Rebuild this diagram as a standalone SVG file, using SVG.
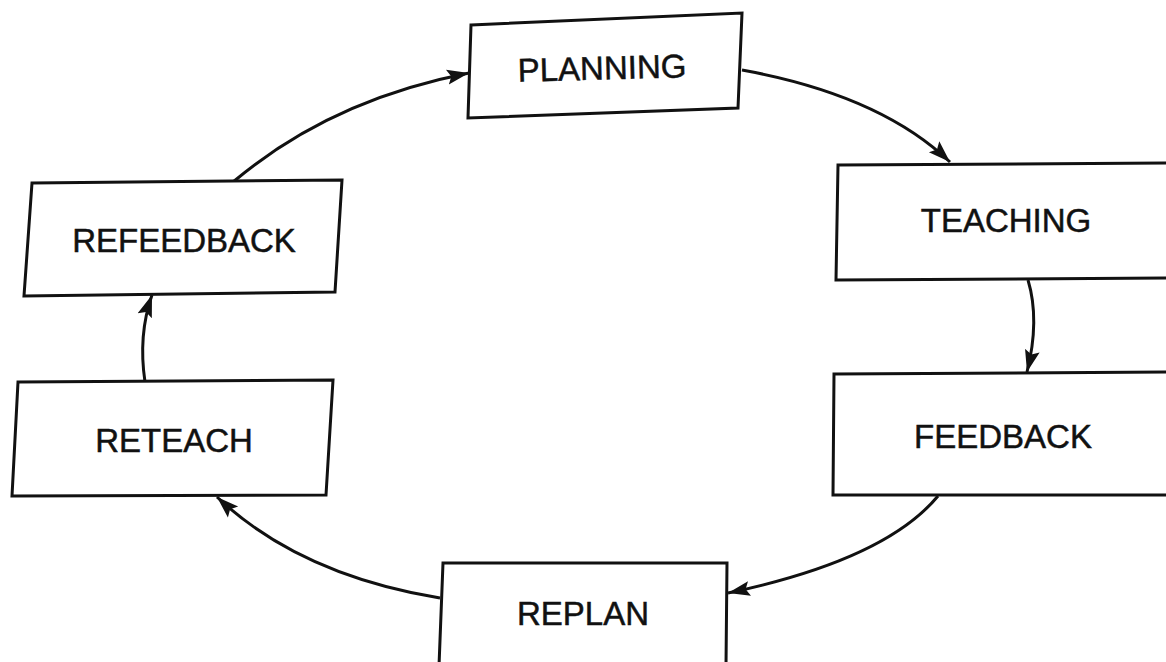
<svg xmlns="http://www.w3.org/2000/svg" width="1166" height="662" viewBox="0 0 1166 662">
<style>
.box{fill:#fff;stroke:#111;stroke-width:3;stroke-linejoin:miter}
.lbl{font-family:"Liberation Sans",Arial,sans-serif;font-size:33px;fill:#111;stroke:#111;stroke-width:0.5;text-anchor:middle;dominant-baseline:central}
.con{fill:none;stroke:#111;stroke-width:3}
</style>
<defs>
<marker id="ah" markerUnits="userSpaceOnUse" markerWidth="24" markerHeight="18" refX="22" refY="9" orient="auto">
<path d="M0,1.5 L22,9 L0,16.5 L4,9 Z" fill="#111"/>
</marker>
</defs>
<rect width="1166" height="662" fill="#fff"/>
<g id="connectors">
<path class="con" d="M233,182 Q330,100 469,73" marker-end="url(#ah)"/>
<path class="con" d="M742,70 Q880,95 950,162" marker-end="url(#ah)"/>
<path class="con" d="M1028,280 Q1040,320 1027,372" marker-end="url(#ah)"/>
<path class="con" d="M938,496 Q885,560 728,593" marker-end="url(#ah)"/>
<path class="con" d="M440,598 Q300,575 217,497" marker-end="url(#ah)"/>
<path class="con" d="M145,382 Q138,335 152,295" marker-end="url(#ah)"/>
</g>
<g id="planning">
<polygon class="box" points="471,25 742,13 738,108 468,118"/>
<text class="lbl" x="602" y="68" transform="rotate(-1.5 602 68)">PLANNING</text>
</g>
<g id="teaching">
<polygon class="box" points="838,165 1170,163 1170,278 836,280"/>
<text class="lbl" x="1006" y="220">TEACHING</text>
</g>
<g id="feedback">
<polygon class="box" points="834,374 1170,372 1170,495 833,495"/>
<text class="lbl" x="1003" y="436">FEEDBACK</text>
</g>
<g id="replan">
<polygon class="box" points="443,563 727,563 726,666 439,666"/>
<text class="lbl" x="583" y="613">REPLAN</text>
</g>
<g id="refeedback">
<polygon class="box" points="32,183 342,180 335,292 24,296"/>
<text class="lbl" x="184" y="240">REFEEDBACK</text>
</g>
<g id="reteach">
<polygon class="box" points="18,382 333,380 326,495 12,496"/>
<text class="lbl" x="174" y="440">RETEACH</text>
</g>
</svg>
